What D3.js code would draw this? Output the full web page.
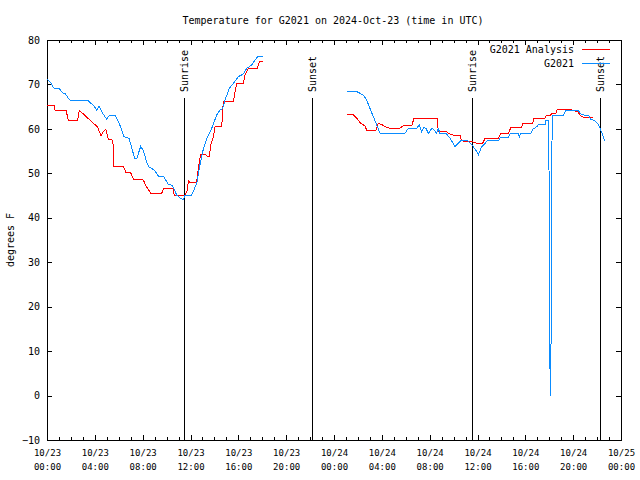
<!DOCTYPE html>
<html><head><meta charset="utf-8">
<script src="https://cdn.jsdelivr.net/npm/d3@7"></script>
<style>
body{margin:0;background:#fff}
svg{display:block}
text{font-family:"DejaVu Sans Mono",monospace;fill:#000}
</style>
</head><body>
<svg id="chart" width="640" height="480"></svg>
<script>
// ---------------- data ----------------
const chartTitle = "Temperature for G2021 on 2024-Oct-23 (time in UTC)";
const yAxisLabel = "degrees F";
const startUTC = Date.UTC(2024, 9, 23, 0, 0);
const spanHours = 48;
const seriesNames = ["G2021 Analysis", "G2021"];
const seriesColors = ["#ff0000", "#0a8cff"];

// hours since 2024-10-23 00:00 UTC (null = gap in data)
const analysisHours = [0.00,0.61,0.67,1.59,1.78,2.57,2.70,3.74,4.21,4.52,4.71,4.93,5.13,5.41,5.54,5.60,6.38,6.61,7.00,7.22,8.05,8.28,8.67,9.59,9.73,10.56,10.65,11.46,11.54,11.73,11.82,11.96,12.46,12.57,12.65,12.85,13.21,13.41,13.57,13.69,13.91,14.05,14.61,14.74,15.58,15.72,15.86,16.42,16.56,16.83,17.59,17.75,18.09,
  null,
  25.06,25.56,25.90,26.23,26.59,26.73,27.51,27.70,27.99,28.26,28.68,29.46,29.80,30.50,30.69,32.64,32.72,33.37,33.70,34.12,34.54,34.68,35.60,35.93,36.43,36.63,37.74,37.94,38.57,38.80,39.70,39.78,40.62,40.73,41.64,41.79,42.12,42.20,42.56,42.67,43.68,44.40,44.57,44.85,45.63];
const analysisTemps = [65.3,65.3,64.2,64.2,62.0,62.0,64.2,61.6,60.5,58.4,59.4,59.9,57.7,57.7,56.4,51.65,51.65,50.1,50.1,48.7,48.5,47.2,45.5,45.5,46.5,46.5,44.95,44.95,44.9,46.25,48.3,47.9,47.9,48.9,51.1,54.35,54.35,53.75,53.75,56.4,58.1,60.5,60.5,66.1,66.1,68.15,70.25,70.25,72.1,73.6,73.6,75.1,75.1,
  null,
  63.3,63.3,62.4,61.25,60.7,59.75,59.75,61.25,61.0,60.5,60.1,60.1,60.7,60.7,62.4,62.4,59.5,59.4,58.8,58.5,58.5,57.3,57.1,56.75,56.75,57.9,57.9,59.0,59.0,60.35,60.35,61.25,61.25,62.4,62.4,63.1,63.1,63.5,63.5,64.4,64.4,63.8,63.1,62.6,62.6];

const obsHours = [0.00,0.31,0.59,1.00,1.36,1.51,1.84,1.98,3.45,3.87,4.16,4.37,4.66,4.99,5.18,5.54,5.69,6.02,6.44,6.86,7.05,7.33,7.50,7.84,8.05,8.39,8.53,8.95,9.37,9.78,10.12,10.48,10.85,11.18,11.40,11.54,12.10,12.52,12.79,13.02,13.36,13.77,14.19,14.47,14.69,14.89,15.24,15.58,16.00,16.42,16.70,17.12,17.59,18.09,
  null,
  25.06,25.90,26.45,26.73,27.01,27.29,27.57,27.85,29.94,30.21,30.92,31.13,31.33,31.53,31.70,31.89,32.17,32.36,32.59,32.72,32.86,33.37,33.70,34.12,34.40,34.68,35.10,35.43,35.65,35.93,36.08,36.35,36.63,36.82,37.74,37.94,38.57,38.77,39.41,39.50,39.61,40.45,40.62,40.95,41.09,41.64,41.73,41.92,42.00,42.02,42.09,42.17,42.18,42.26,43.18,43.40,44.43,44.63,44.91,45.27,45.47,45.83,46.10,46.30,46.52,46.61];
const obsTemps = [71.2,70.4,69.1,69.1,68.0,68.0,66.65,66.3,66.3,65.3,64.25,65.1,63.5,62.2,62.9,63.1,63.0,61.4,58.25,57.9,56.15,53.3,53.3,56.1,55.1,52.1,51.4,50.8,49.2,49.2,47.6,47.3,45.1,44.3,44.15,45.1,45.1,47.75,51.9,54.9,57.9,60.1,63.1,64.25,64.6,66.5,69.1,70.25,71.75,72.35,73.6,74.4,76.2,76.2,
  null,
  68.4,68.4,67.6,66.5,64.6,62.75,60.9,59.0,59.0,60.1,60.1,61.0,59.4,60.3,60.1,59.0,60.1,59.8,59.0,60.1,59.0,59.0,57.9,56.0,56.75,57.5,57.5,56.75,56.0,54.9,54.2,56.0,56.75,57.35,57.35,58.1,58.1,59.0,59.0,58.1,59.0,59.0,59.9,60.5,60.9,60.9,62.0,62.0,47.0,16.0,0.0,16.0,47.0,63.1,63.1,64.1,64.1,63.4,63.1,63.1,62.2,61.8,61.0,59.8,58.3,57.3];

const eventHours = [11.46, 22.16, 35.54, 46.25];
const eventLabels = ["Sunrise", "Sunset", "Sunrise", "Sunset"];
const yTickValues = [-10, 0, 10, 20, 30, 40, 50, 60, 70, 80];

// ---------------- chart ----------------
const svg = d3.select("#chart");
const L = 47, R = 621, T = 40, B = 440;
const toDate = h => new Date(startUTC + h * 3600e3);

const x = d3.scaleUtc().domain([toDate(0), toDate(spanHours)]).range([L, R]);
const y = d3.scaleLinear().domain([-10, 80]).range([B, T]);

const fs = 10, fsX = 9;

// title
svg.append("text").attr("x", 333).attr("y", 24).attr("text-anchor", "middle")
  .attr("font-size", fs).text(chartTitle);

// y label
svg.append("text").attr("transform", "translate(14,240) rotate(-90)")
  .attr("text-anchor", "middle").attr("font-size", fs).text(yAxisLabel);

const majorTicks = d3.utcHour.every(4).range(toDate(0), toDate(spanHours + 0.01));
const minorTicks = d3.utcHour.every(1).range(toDate(0), toDate(spanHours + 0.01));

function styleAxis(g) {
  g.attr("font-family", null).attr("font-size", null);
  g.selectAll("path,line").attr("stroke", "#000").attr("shape-rendering", "crispEdges");
  g.selectAll("text").attr("font-size", fs).attr("fill", "#000");
}

// minor x ticks bottom/top
svg.append("g").attr("transform", `translate(0,${B})`)
  .call(d3.axisBottom(x).tickValues(minorTicks).tickSize(-3).tickFormat(""))
  .call(styleAxis);
svg.append("g").attr("transform", `translate(0,${T})`)
  .call(d3.axisTop(x).tickValues(minorTicks).tickSize(-3).tickFormat(""))
  .call(styleAxis);

// major x ticks bottom with two-line labels
const fmtDate = d3.utcFormat("%m/%d"), fmtTime = d3.utcFormat("%H:%M");
const xb = svg.append("g").attr("transform", `translate(0,${B})`)
  .call(d3.axisBottom(x).tickValues(majorTicks).tickSize(-5).tickSizeOuter(0).tickPadding(0))
  .call(styleAxis);
xb.selectAll(".tick text").each(function(d) {
  const t = d3.select(this).text("").attr("dy", null).attr("y", 0).attr("font-size", fsX);
  t.append("tspan").attr("x", 0).attr("y", 16).text(fmtDate(d));
  t.append("tspan").attr("x", 0).attr("y", 30).text(fmtTime(d));
});
svg.append("g").attr("transform", `translate(0,${T})`)
  .call(d3.axisTop(x).tickValues(majorTicks).tickSize(-5).tickSizeOuter(0).tickFormat(""))
  .call(styleAxis);

// y axes
svg.append("g").attr("transform", `translate(${L},0)`)
  .call(d3.axisLeft(y).tickValues(yTickValues).tickSize(-5).tickSizeOuter(0).tickPadding(7).tickFormat(d3.format("d")))
  .call(styleAxis);
svg.append("g").attr("transform", `translate(${R},0)`)
  .call(d3.axisRight(y).tickValues(yTickValues).tickSize(-5).tickSizeOuter(0).tickFormat(""))
  .call(styleAxis);

// frame
svg.append("rect").attr("x", L).attr("y", T).attr("width", R - L).attr("height", B - T)
  .attr("fill", "none").attr("stroke", "#000").attr("shape-rendering", "crispEdges");

// sunrise / sunset markers
const ev = svg.append("g");
eventHours.forEach((h, i) => {
  const ex = Math.round(x(toDate(h)));
  ev.append("line").attr("x1", ex).attr("x2", ex).attr("y1", 98).attr("y2", B)
    .attr("stroke", "#000").attr("shape-rendering", "crispEdges");
  ev.append("text").attr("transform", `translate(${ex + 4},92) rotate(-90)`)
    .attr("font-size", fs).attr("text-anchor", "start").text(eventLabels[i]);
});

// series
function toPoints(hours, temps) {
  return hours.map((h, i) => ({ t: h == null ? null : toDate(h), v: temps[i] }));
}
const line = d3.line()
  .defined(d => d.t != null && d.v != null)
  .x(d => x(d.t)).y(d => y(d.v));

const series = [toPoints(analysisHours, analysisTemps), toPoints(obsHours, obsTemps)];
series.forEach((pts, i) => {
  svg.append("path").datum(pts).attr("d", line)
    .attr("fill", "none").attr("stroke", seriesColors[i]).attr("stroke-width", 1)
    .attr("shape-rendering", "crispEdges");
});

// legend
const legY = [49, 63];
seriesNames.forEach((n, i) => {
  svg.append("text").attr("x", 574).attr("y", legY[i] + 4).attr("text-anchor", "end")
    .attr("font-size", fs).text(n);
  svg.append("path").attr("d", `M582,${legY[i] + 0.5}H610`)
    .attr("fill", "none").attr("stroke", seriesColors[i]).attr("stroke-width", 1);
});
</script>
</body></html>
